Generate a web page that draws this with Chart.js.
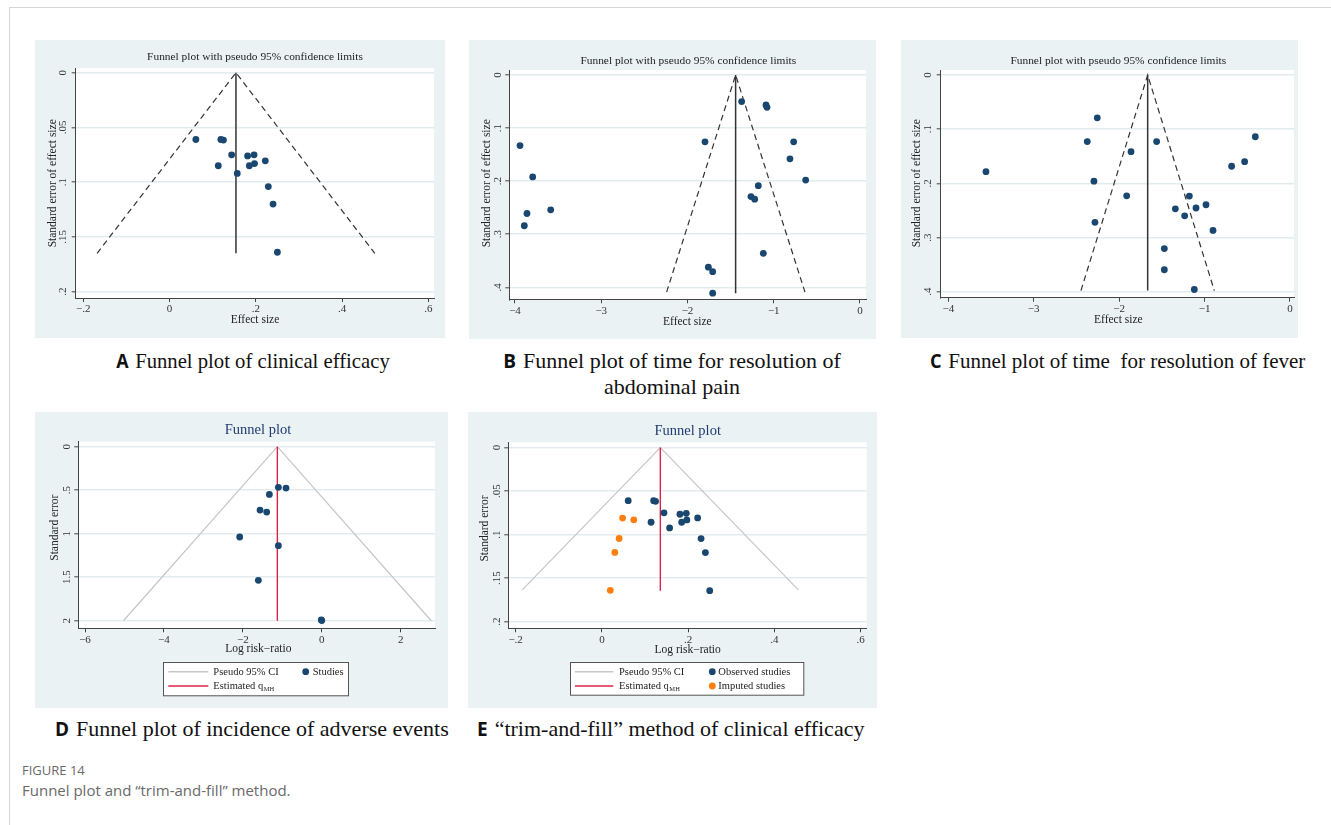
<!DOCTYPE html>
<html><head><meta charset="utf-8">
<script src="https://cdn.jsdelivr.net/npm/chart.js@4.4.1/dist/chart.umd.min.js"></script>
<style>
html,body{margin:0;padding:0;background:#fff;}
body{width:1331px;height:825px;position:relative;overflow:hidden;}
.frame{position:absolute;left:9px;top:7px;width:1400px;height:900px;border-left:1px solid #d6d6d6;border-top:1px solid #d6d6d6;}
.panel{position:absolute;background:#eaf2f3;}
.panel canvas{display:block;}
.cap{position:absolute;font-family:"Liberation Serif",serif;font-size:22px;color:#111;white-space:nowrap;line-height:26px;}
.cap b{font-family:"Open Sans","DejaVu Sans",sans-serif;font-weight:700;font-size:19px;margin-right:7px;}
.fig{position:absolute;left:22px;font-family:"Open Sans",sans-serif;color:#6a6a6a;white-space:nowrap;}
</style></head>
<body>
<div class="frame"></div>
<div class="cap" style="left:53px;top:348px;width:400px;text-align:center;transform:scaleX(0.94);transform-origin:200px 0"><b>A</b>Funnel plot of clinical efficacy</div>
<div class="cap" style="left:472px;top:348px;width:400px;text-align:center"><b>B</b>Funnel plot of time for resolution of<br>abdominal pain</div>
<div class="cap" style="left:930px;top:348px;transform:scaleX(0.955);transform-origin:0 0"><b>C</b>Funnel plot of time&nbsp; for resolution of fever</div>
<div class="cap" style="left:55px;top:716px"><b>D</b>Funnel plot of incidence of adverse events</div>
<div class="cap" style="left:477px;top:716px"><b>E</b>“trim-and-fill” method of clinical efficacy</div>
<div class="fig" style="top:761px;font-size:13px;">FIGURE 14</div>
<div class="fig" style="top:780px;font-size:15px;">Funnel plot and “trim-and-fill” method.</div>
<script>
// ---------- Panel A : clinical efficacy ----------
const effA = [0.061,0.119,0.125,0.144,0.113,0.157,0.181,0.196,0.185,0.197,0.222,0.229,0.240,0.250];
const seA  = [0.061,0.061,0.0615,0.075,0.085,0.092,0.076,0.075,0.085,0.083,0.0805,0.104,0.120,0.164];
const funnelXA = [-0.168,0.154,0.476];
const funnelYA = [0.165,0,0.165];
const pooledXA = [0.154,0.154];
const pooledYA = [0,0.165];
const xTicksA = [-0.2,0,0.2,0.4,0.6];
const xLabelsA = ["−.2","0",".2",".4",".6"];
const yTicksA = [0,0.05,0.1,0.15,0.2];
const yLabelsA = ["0",".05",".1",".15",".2"];

// ---------- Panel B : abdominal pain ----------
const effB = [-3.942,-3.795,-3.861,-3.892,-3.586,-1.797,-1.372,-1.090,-1.078,-0.769,-0.812,-0.630,-1.179,-1.264,-1.221,-1.121,-1.758,-1.708,-1.708];
const seB  = [0.133,0.192,0.261,0.284,0.254,0.126,0.050,0.0565,0.061,0.126,0.158,0.198,0.2085,0.229,0.234,0.336,0.362,0.3705,0.411];
const funnelXB = [-2.242,-1.442,-0.638];
const funnelYB = [0.409,0,0.409];
const pooledXB = [-1.442,-1.442];
const pooledYB = [0,0.411];
const xTicksB = [-4,-3,-2,-1,0];
const xLabelsB = ["−4","−3","−2","−1","0"];
const yTicksB = [0,0.1,0.2,0.3,0.4];
const yLabelsB = ["0",".1",".2",".3",".4"];

// ---------- Panel C : fever ----------
const effC = [-3.559,-2.256,-2.373,-2.295,-2.283,-1.861,-1.912,-1.561,-1.178,-1.342,-1.233,-1.100,-0.983,-0.901,-1.471,-1.471,-1.120,-0.683,-0.531,-0.406];
const seC  = [0.1785,0.079,0.123,0.196,0.272,0.1415,0.223,0.123,0.2235,0.247,0.260,0.2455,0.2395,0.287,0.3205,0.3595,0.396,0.1685,0.160,0.114];
const funnelXC = [-2.447,-1.666,-0.886];
const funnelYC = [0.398,0,0.398];
const pooledXC = [-1.666,-1.666];
const pooledYC = [0,0.398];
const xTicksC = [-4,-3,-2,-1,0];
const xLabelsC = ["−4","−3","−2","−1","0"];
const yTicksC = [0,0.1,0.2,0.3,0.4];
const yLabelsC = ["0",".1",".2",".3",".4"];

// ---------- Panel D : adverse events ----------
const effD = [-1.100,-0.906,-1.328,-1.565,-1.396,-2.080,-1.100,-1.607,0.0,-0.012];
const seD  = [0.467,0.475,0.548,0.728,0.751,1.038,1.138,1.536,1.998,1.990];
const funnelXD = [-5.026,-1.126,2.774];
const funnelYD = [2.0,0,2.0];
const pooledXD = [-1.126,-1.126];
const pooledYD = [0,2.0];
const xTicksD = [-6,-4,-2,0,2];
const xLabelsD = ["−6","−4","−2","0","2"];
const yTicksD = [0,0.5,1,1.5,2];
const yLabelsD = ["0",".5","1","1.5","2"];

// ---------- Panel E : trim-and-fill ----------
const effEobs = [0.061,0.120,0.1245,0.144,0.114,0.157,0.181,0.1957,0.185,0.197,0.222,0.230,0.240,0.250];
const seEobs  = [0.061,0.061,0.0617,0.075,0.0858,0.0923,0.0766,0.0755,0.0858,0.0831,0.0808,0.1046,0.1207,0.1644];
const effEimp = [0.048,0.074,0.040,0.030,0.0195];
const seEimp  = [0.081,0.083,0.1045,0.1205,0.164];
const funnelXE = [-0.1845,0.1355,0.4555];
const funnelYE = [0.1635,0,0.1635];
const pooledXE = [0.1355,0.1355];
const pooledYE = [0,0.1645];
const xTicksE = [-0.2,0,0.2,0.4,0.6];
const xLabelsE = ["−.2","0",".2",".4",".6"];
const yTicksE = [0,0.05,0.1,0.15,0.2];
const yLabelsE = ["0",".05",".1",".15",".2"];

const NAVY = '#1a476f', ORANGE = '#ff7f0e', RED = '#dc2148', CIGRAY = '#c6c6c6', DARK = '#333333';
const FONT = '"Liberation Serif", "Times New Roman", serif';
Chart.defaults.font.family = FONT;

function pts(xs, ys){ return xs.map((x,i)=>({x:x, y:ys[i]})); }

function makePanel(p){
  const W = p.box[2]-p.box[0], H = p.box[3]-p.box[1];
  const div = document.createElement('div'); div.className='panel';
  Object.assign(div.style,{left:p.box[0]+'px',top:p.box[1]+'px',width:W+'px',height:H+'px'});
  const cv = document.createElement('canvas'); cv.width=W; cv.height=H; cv.style.width=W+'px'; cv.style.height=H+'px';
  div.appendChild(cv); document.body.appendChild(div);
  const YW = 6, XH = 22;
  const pad = {left:p.plot[0]-p.box[0]-YW, top:p.plot[1]-p.box[1], right:p.box[2]-p.plot[2], bottom:p.box[3]-p.plot[3]-XH};
  const ox = p.box[0], oy = p.box[1];
  const deco = {
    id:'deco',
    beforeDraw(chart){
      const c=chart.ctx, a=chart.chartArea; c.save();
      c.fillStyle='#eaf2f3'; c.fillRect(0,0,chart.width,chart.height);
      c.fillStyle='#ffffff'; c.fillRect(a.left,a.top,a.right-a.left,a.bottom-a.top);
      c.restore();
    },
    afterDraw(chart){
      const c=chart.ctx; c.save();
      // title
      c.fillStyle=p.titleColor; c.font=p.titleSize+'px '+FONT; c.textAlign='center'; c.textBaseline='middle';
      c.fillText(p.title, p.titlePos[0]-ox, p.titlePos[1]-oy);
      // x axis title
      c.fillStyle='#222'; c.font='11.5px '+FONT;
      c.fillText(p.xTitle, p.xTitlePos[0]-ox, p.xTitlePos[1]-oy);
      // y axis title (rotated)
      c.save(); c.translate(p.yTitlePos[0]-ox, p.yTitlePos[1]-oy); c.rotate(-Math.PI/2);
      c.fillText(p.yTitle, 0, 0); c.restore();
      // y tick labels (rotated, Stata style)
      const ys = chart.scales.y;
      c.font='11px '+FONT; c.fillStyle='#333';
      ys.ticks.forEach((t,i)=>{
        const py = ys.getPixelForValue(t.value);
        c.save(); c.translate(p.yLabX-ox, py); c.rotate(-Math.PI/2);
        c.fillText(p.yLabels[i], 0, 0); c.restore();
      });
      // legend
      if (p.legend){
        const L=p.legend, b=L.box;
        c.fillStyle='#fff'; c.fillRect(b[0]-ox,b[1]-oy,b[2]-b[0],b[3]-b[1]);
        c.strokeStyle='#555'; c.lineWidth=1; c.strokeRect(Math.round(b[0]-ox)+0.5,Math.round(b[1]-oy)+0.5,b[2]-b[0],b[3]-b[1]);
        c.font='10.5px '+FONT; c.textAlign='left'; c.fillStyle='#222';
        L.items.forEach(it=>{
          const y=it.y-oy;
          if (it.kind==='line'){
            c.strokeStyle=it.color; c.lineWidth=1.5; c.beginPath(); c.moveTo(it.x0-ox,y); c.lineTo(it.x1-ox,y); c.stroke();
          } else {
            c.fillStyle=it.color; c.beginPath(); c.arc(it.x0-ox,y,3.4,0,Math.PI*2); c.fill();
          }
          c.fillStyle='#222'; c.font='10.5px '+FONT;
          c.fillText(it.text, it.tx-ox, y+0.5);
          if (it.sub){
            const w=c.measureText(it.text).width;
            c.font='6.5px '+FONT; c.fillText(it.sub, it.tx-ox+w+0.5, y+3);
          }
        });
      }
      c.restore();
    }
  };
  const datasets = p.series.map(s=>({
    data: pts(s.x, s.y),
    showLine: !!s.line,
    borderColor: s.color,
    backgroundColor: s.color,
    borderWidth: s.line ? s.width : 0,
    borderDash: s.dash || [],
    pointRadius: s.line ? 0 : 3.4,
    pointHoverRadius: 0,
    pointBorderWidth: 0,
    fill: false,
    tension: 0
  }));
  new Chart(cv, {
    type:'scatter',
    data:{datasets},
    options:{
      responsive:false, animation:false, devicePixelRatio:1,
      layout:{padding:pad},
      plugins:{legend:{display:false}, tooltip:{enabled:false}, title:{display:false}},
      events:[],
      scales:{
        x:{type:'linear', min:p.xr[0], max:p.xr[1],
           afterBuildTicks: ax => { ax.ticks = p.xTicks.map(v=>({value:v})); },
           afterFit: ax => { ax.height = XH; },
           ticks:{autoSkip:false, maxRotation:0, minRotation:0, padding:1, color:'#333',
                  font:{size:11, family:FONT}, callback:(v,i)=>p.xLabels[i]},
           grid:{drawOnChartArea:false, drawTicks:true, tickLength:4, tickColor:'#444', tickWidth:1},
           border:{display:true, color:'#444', width:1}},
        y:{type:'linear', reverse:true, min:p.yr[0], max:p.yr[1],
           afterBuildTicks: ax => { ax.ticks = p.yTicks.map(v=>({value:v})); },
           afterFit: ax => { ax.width = YW; },
           ticks:{display:false},
           grid:{drawOnChartArea:true, color:'#e2ecef', lineWidth:1.6, drawTicks:true, tickLength:4, tickColor:'#444', tickWidth:1},
           border:{display:true, color:'#444', width:1}}
      }
    },
    plugins:[deco]
  });
}

const stataTitle = 'Funnel plot with pseudo 95% confidence limits';

makePanel({
  box:[35,40,445,338], plot:[75.7,68,434,298],
  xr:[-0.2176,0.6132], yr:[-0.0043,0.2058],
  xTicks:xTicksA, xLabels:xLabelsA, yTicks:yTicksA, yLabels:yLabelsA,
  title:stataTitle, titleSize:11.4, titleColor:'#222', titlePos:[255,57.5],
  xTitle:'Effect size', xTitlePos:[255,320], yTitle:'Standard error of effect size', yTitlePos:[53.3,183.3], yLabX:63.3,
  series:[
    {x:effA, y:seA, color:NAVY},
    {x:funnelXA, y:funnelYA, color:DARK, line:true, width:1.2, dash:[6,4]},
    {x:pooledXA, y:pooledYA, color:DARK, line:true, width:1.5}
  ]
});

makePanel({
  box:[469,40,876,339], plot:[509.3,70,866,299.3],
  xr:[-4.066,0.0696], yr:[-0.0094,0.4226],
  xTicks:xTicksB, xLabels:xLabelsB, yTicks:yTicksB, yLabels:yLabelsB,
  title:stataTitle, titleSize:11.4, titleColor:'#222', titlePos:[688.3,60.7],
  xTitle:'Effect size', xTitlePos:[687.3,321.7], yTitle:'Standard error of effect size', yTitlePos:[486.7,183.3], yLabX:498.3,
  series:[
    {x:effB, y:seB, color:NAVY},
    {x:funnelXB, y:funnelYB, color:DARK, line:true, width:1.2, dash:[6,4]},
    {x:pooledXB, y:pooledYB, color:DARK, line:true, width:1.5}
  ]
});

makePanel({
  box:[901,40,1298,338], plot:[940.7,70,1294,297.7],
  xr:[-4.089,0.047], yr:[-0.0092,0.4111],
  xTicks:xTicksC, xLabels:xLabelsC, yTicks:yTicksC, yLabels:yLabelsC,
  title:stataTitle, titleSize:11.4, titleColor:'#222', titlePos:[1118.3,60.7],
  xTitle:'Effect size', xTitlePos:[1118.3,320], yTitle:'Standard error of effect size', yTitlePos:[916.7,183.3], yLabX:928.3,
  series:[
    {x:effC, y:seC, color:NAVY},
    {x:funnelXC, y:funnelYC, color:DARK, line:true, width:1.2, dash:[6,4]},
    {x:pooledXC, y:pooledYC, color:DARK, line:true, width:1.5}
  ]
});

makePanel({
  box:[35,412,448,708], plot:[78.3,441.7,435,628.3],
  xr:[-6.17,2.869], yr:[-0.0575,2.087],
  xTicks:xTicksD, xLabels:xLabelsD, yTicks:yTicksD, yLabels:yLabelsD,
  title:'Funnel plot', titleSize:14.5, titleColor:'#1f3b6f', titlePos:[258,430],
  xTitle:'Log risk−ratio', xTitlePos:[258.3,649], yTitle:'Standard error', yTitlePos:[55,527.7], yLabX:66.7,
  legend:{box:[163.3,661.7,348.3,695], items:[
    {kind:'line', color:CIGRAY, x0:168.3, x1:208.3, y:671.7, tx:213.3, text:'Pseudo 95% CI'},
    {kind:'dot', color:NAVY, x0:305.7, y:671.7, tx:312.7, text:'Studies'},
    {kind:'line', color:RED, x0:168.3, x1:208.3, y:686, tx:213.3, text:'Estimated q', sub:'MH'}
  ]},
  series:[
    {x:effD, y:seD, color:NAVY},
    {x:pooledXD, y:pooledYD, color:RED, line:true, width:1.4},
    {x:funnelXD, y:funnelYD, color:CIGRAY, line:true, width:1.2}
  ]
});

makePanel({
  box:[468,412,877,708], plot:[508.3,442.3,866.7,628.3],
  xr:[-0.217,0.614], yr:[-0.0061,0.2077],
  xTicks:xTicksE, xLabels:xLabelsE, yTicks:yTicksE, yLabels:yLabelsE,
  title:'Funnel plot', titleSize:14.5, titleColor:'#1f3b6f', titlePos:[687.7,430.7],
  xTitle:'Log risk−ratio', xTitlePos:[687.7,650], yTitle:'Standard error', yTitlePos:[485,528.5], yLabX:496.7,
  legend:{box:[570,662.3,803.3,695], items:[
    {kind:'line', color:CIGRAY, x0:575, x1:613.3, y:671.7, tx:619, text:'Pseudo 95% CI'},
    {kind:'dot', color:NAVY, x0:712.3, y:671.7, tx:718.3, text:'Observed studies'},
    {kind:'line', color:RED, x0:575, x1:613.3, y:686, tx:619, text:'Estimated q', sub:'MH'},
    {kind:'dot', color:ORANGE, x0:712.3, y:686, tx:718.3, text:'Imputed studies'}
  ]},
  series:[
    {x:effEobs, y:seEobs, color:NAVY},
    {x:effEimp, y:seEimp, color:ORANGE},
    {x:pooledXE, y:pooledYE, color:RED, line:true, width:1.4},
    {x:funnelXE, y:funnelYE, color:CIGRAY, line:true, width:1.2}
  ]
});
</script>
</body></html>
